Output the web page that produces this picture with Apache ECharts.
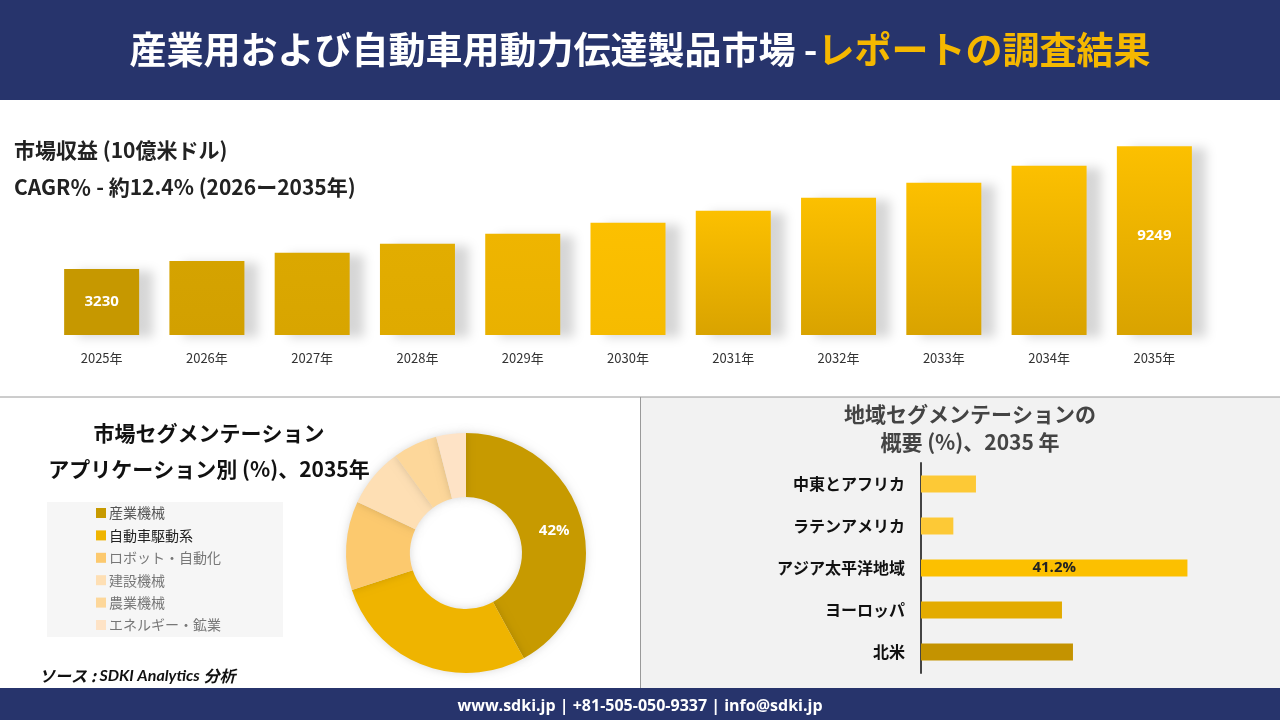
<!DOCTYPE html>
<html>
<head>
<meta charset="utf-8">
<script src="https://cdn.jsdelivr.net/npm/echarts@6/dist/echarts.min.js"></script>
<style>
html,body{margin:0;padding:0;background:#fff;}
#main{width:1280px;height:720px;}
</style>
</head>
<body>
<div id="main"></div>
<script>
// ---- data ----
const years = ['2025年','2026年','2027年','2028年','2029年','2030年','2031年','2032年','2033年','2034年','2035年'];
const revenue = [3230, 3630, 4030, 4470, 4960, 5500, 6090, 6730, 7460, 8300, 9249];
const labeledYears = ['2025年', '2035年'];

const appNames = ['産業機械','自動車駆動系','ロボット・自動化','建設機械','農業機械','エネルギー・鉱業'];
const appShares = [42, 28, 12, 8, 6, 4];
const labeledApp = '産業機械';

const regions = ['中東とアフリカ','ラテンアメリカ','アジア太平洋地域','ヨーロッパ','北米'];
const regionShares = [8.5, 5.0, 41.2, 21.8, 23.5];
const labeledRegion = 'アジア太平洋地域';

// ---- styles ----
const FONT = "'Noto Sans CJK JP', 'Noto Sans', sans-serif";
const NAVY = '#27346c';
const barTop =    ['#c69800','#d5a300','#dba800','#e2ad00','#efb500','#fcc000','#fcc000','#fcc000','#fcc000','#fcc000','#fcc000'];
const barBottom = ['#c69800','#d2a000','#d8a500','#dfaa00','#e9b100','#f6bb00','#d9a300','#d9a300','#d9a300','#d9a300','#d9a300'];
const appColors = ['#c79a00','#efb400','#fcc96e','#fedfb4','#fdd79a','#fee3c6'];
const appTextColors = ['#555','#222','#777','#777','#777','#777'];
const regionColors = ['#fdc936','#fdc936','#fcc000','#e3ab00','#c49300'];

const chart = echarts.init(document.getElementById('main'));

const option = {
  backgroundColor: '#ffffff',
  animation: false,
  textStyle: { fontFamily: FONT },
  graphic: [
    { type: 'rect', z: 0, shape: { x: 0, y: 0, width: 1280, height: 100 }, style: { fill: NAVY } },
    { type: 'rect', z: 0, shape: { x: 641, y: 397, width: 639, height: 291 }, style: { fill: '#f2f2f2' } },
    { type: 'rect', z: 0, shape: { x: 47, y: 502, width: 236, height: 135 }, style: { fill: '#f6f6f6' } },
    { type: 'line', z: 1, shape: { x1: 0, y1: 397, x2: 1280, y2: 397 }, style: { stroke: '#9a9a9a', lineWidth: 1 } },
    { type: 'line', z: 1, shape: { x1: 640.5, y1: 397, x2: 640.5, y2: 688 }, style: { stroke: '#9a9a9a', lineWidth: 1 } },
    { type: 'rect', z: 0, shape: { x: 0, y: 688, width: 1280, height: 32 }, style: { fill: NAVY } }
  ],
  title: [
    {
      text: '{a|産業用および自動車用動力伝達製品市場 -}{b|レポートの調査結果}',
      left: 'center', top: 26,
      textStyle: {
        rich: {
          a: { fontFamily: FONT, fontSize: 37, fontWeight: 'bold', color: '#ffffff' },
          b: { fontFamily: FONT, fontSize: 37, fontWeight: 'bold', color: '#f5b800' }
        }
      }
    },
    { text: '市場収益 (10億米ドル)', left: 9, top: 135, textStyle: { fontFamily: FONT, fontSize: 21, fontWeight: 'bold', color: '#222' } },
    { text: 'CAGR％ - 約12.4% (2026ー2035年)', left: 9, top: 172, textStyle: { fontFamily: FONT, fontSize: 21, fontWeight: 'bold', color: '#222' } },
    { text: '市場セグメンテーション', left: 204, textAlign: 'center', top: 418, textStyle: { fontFamily: FONT, fontSize: 21, fontWeight: 'bold', color: '#111' } },
    { text: 'アプリケーション別 (%)、2035年', left: 204, textAlign: 'center', top: 454, textStyle: { fontFamily: FONT, fontSize: 21, fontWeight: 'bold', color: '#111' } },
    { text: '地域セグメンテーションの', left: 965, textAlign: 'center', top: 399, textStyle: { fontFamily: FONT, fontSize: 21, fontWeight: 'bold', color: '#444' } },
    { text: '概要 (%)、2035 年', left: 965, textAlign: 'center', top: 427, textStyle: { fontFamily: FONT, fontSize: 21, fontWeight: 'bold', color: '#444' } },
    { text: '{a|ソース : }{b|SDKI Analytics}{a| 分析}', left: 34, top: 663,
      textStyle: { rich: {
        a: { fontFamily: FONT, fontSize: 16, fontStyle: 'italic', color: '#111' },
        b: { fontFamily: 'Lato', fontSize: 16, fontStyle: 'italic', fontWeight: 'bold', color: '#111' }
      } } },
    { text: 'www.sdki.jp | +81-505-050-9337 | info@sdki.jp', left: 'center', top: 693,
      textStyle: { fontFamily: "'Open Sans', sans-serif", fontSize: 16, fontWeight: 'bold', color: '#ffffff' } }
  ],
  legend: {
    orient: 'vertical',
    left: 91, top: 500,
    itemWidth: 10, itemHeight: 10,
    itemGap: 6.4,
    icon: 'rect',
    textStyle: { fontFamily: FONT, fontSize: 14, color: '#666', lineHeight: 16, padding: [0, 0, 0, -2] },
    data: appNames.map((n, i) => ({ name: n, textStyle: { color: appTextColors[i] } }))
  },
  grid: [
    { left: 49, right: 73, top: 131, bottom: 385, containLabel: false },
    { left: 921, right: 68, top: 463, bottom: 47, containLabel: false }
  ],
  xAxis: [
    {
      gridIndex: 0, type: 'category', data: years,
      axisLine: { show: false }, axisTick: { show: false },
      axisLabel: { margin: 17, fontSize: 13, color: '#333', fontFamily: FONT }
    },
    {
      gridIndex: 1, type: 'value', min: 0, max: 45,
      show: false
    }
  ],
  yAxis: [
    {
      gridIndex: 0, type: 'value', min: 0, max: 10000,
      show: false
    },
    {
      gridIndex: 1, type: 'category', data: regions, inverse: true,
      axisLine: { show: true, lineStyle: { color: '#444', width: 2 } },
      axisTick: { show: false },
      axisLabel: { margin: 16, fontSize: 16, fontWeight: 'bold', color: '#111', fontFamily: FONT }
    }
  ],
  series: [
    {
      type: 'bar', xAxisIndex: 0, yAxisIndex: 0,
      barWidth: 75,
      data: revenue.map((v, i) => ({
        value: v,
        itemStyle: {
          color: new echarts.graphic.LinearGradient(0, 0, 0, 1, [
            { offset: 0, color: barTop[i] }, { offset: 1, color: barBottom[i] }
          ]),
          shadowColor: 'rgba(0,0,0,0.16)', shadowBlur: 10, shadowOffsetX: 14, shadowOffsetY: 2
        },
        label: { show: labeledYears.indexOf(years[i]) >= 0, offset: [0, i === years.length - 1 ? -5 : 0] }
      })),
      label: {
        position: 'inside', color: '#ffffff', fontSize: 15, fontWeight: 'bold',
        fontFamily: "'Open Sans', sans-serif"
      }
    },
    {
      type: 'pie', center: [466, 553], radius: [56, 120],
      startAngle: 90, clockwise: true,
      data: appNames.map((n, i) => ({
        name: n, value: appShares[i],
        itemStyle: { color: appColors[i] },
        label: { show: n === labeledApp }
      })),
      itemStyle: { shadowColor: 'rgba(0,0,0,0.15)', shadowBlur: 8 },
      label: {
        position: 'inside', formatter: '{c}%', color: '#ffffff', fontSize: 15, fontWeight: 'bold',
        fontFamily: "'Open Sans', sans-serif"
      },
      labelLine: { show: false },
      emphasis: { disabled: true }
    },
    {
      type: 'bar', xAxisIndex: 1, yAxisIndex: 1,
      barWidth: 17,
      data: regions.map((r, i) => ({
        value: regionShares[i],
        itemStyle: { color: regionColors[i] },
        label: { show: r === labeledRegion }
      })),
      label: {
        position: 'inside', formatter: '{c}%', color: '#222', fontSize: 15, fontWeight: 'bold',
        fontFamily: "'Open Sans', sans-serif"
      }
    }
  ]
};

chart.setOption(option);
</script>
</body>
</html>
